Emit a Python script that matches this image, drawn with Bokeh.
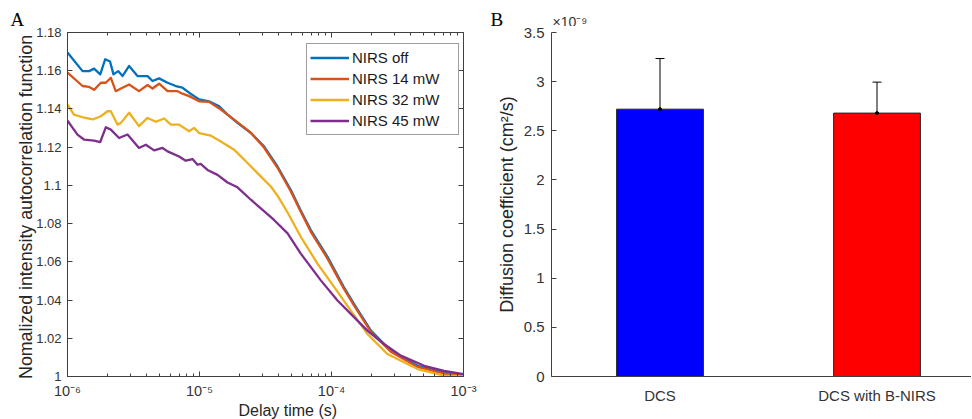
from bokeh.plotting import figure
from bokeh.models import (ColumnDataSource, FixedTicker, CustomJSTickFormatter, LinearAxis,
                          LogAxis, Legend, LegendItem, Whisker, TeeHead, Range1d)
from bokeh.layouts import row, column
from bokeh.embed import file_html
from bokeh.resources import INLINE
from bokeh.core.properties import value

# ---------------- Panel A data (delay time in s, normalized g2) ----------------
tau_off = [1.00e-6, 1.30e-6, 1.46e-6, 1.59e-6, 1.77e-6, 1.93e-6, 2.10e-6, 2.23e-6, 2.42e-6, 2.61e-6,
           2.93e-6, 3.39e-6, 4.04e-6, 4.41e-6, 4.94e-6, 5.73e-6, 6.61e-6, 7.43e-6, 8.34e-6, 9.93e-6,
           1.18e-5, 1.41e-5, 1.63e-5, 1.94e-5, 2.45e-5, 3.08e-5, 3.90e-5, 4.92e-5, 5.85e-5, 6.97e-5,
           9.33e-5, 1.24e-4, 1.48e-4, 1.99e-4, 2.81e-4, 4.49e-4, 7.13e-4, 1.00e-3]
g2_off = [1.1695, 1.1598, 1.1598, 1.1611, 1.1581, 1.1660, 1.1648, 1.1581, 1.1598, 1.1572,
          1.1625, 1.1572, 1.1572, 1.1546, 1.1560, 1.1537, 1.1520, 1.1511, 1.1485, 1.1450,
          1.1440, 1.1414, 1.1370, 1.1327, 1.1274, 1.1204, 1.1099, 1.0976, 1.0868, 1.0766,
          1.0626, 1.0468, 1.0380, 1.0240, 1.0135, 1.0056, 1.0021, 1.0009]

tau_14 = [1.00e-6, 1.30e-6, 1.46e-6, 1.59e-6, 1.79e-6, 1.95e-6, 2.13e-6, 2.32e-6, 2.54e-6, 2.93e-6,
          3.48e-6, 4.04e-6, 4.41e-6, 4.94e-6, 5.73e-6, 6.81e-6, 7.43e-6, 8.34e-6, 9.93e-6, 1.18e-5,
          1.45e-5, 1.83e-5, 2.45e-5, 3.08e-5, 3.90e-5, 4.92e-5, 5.85e-5, 6.97e-5, 9.33e-5, 1.24e-4,
          1.48e-4, 1.99e-4, 2.81e-4, 4.49e-4, 7.13e-4, 1.00e-3]
g2_14 = [1.1590, 1.1520, 1.1515, 1.1500, 1.1537, 1.1537, 1.1563, 1.1493, 1.1507, 1.1528,
         1.1493, 1.1525, 1.1507, 1.1532, 1.1493, 1.1493, 1.1480, 1.1467, 1.1440, 1.1437,
         1.1397, 1.1344, 1.1276, 1.1198, 1.1092, 1.0968, 1.0862, 1.0757, 1.0617, 1.0460,
         1.0372, 1.0233, 1.0130, 1.0050, 1.0015, 1.0004]

tau_32 = [1.00e-6, 1.12e-6, 1.34e-6, 1.55e-6, 1.79e-6, 2.01e-6, 2.13e-6, 2.39e-6, 2.54e-6, 2.93e-6,
          3.48e-6, 4.04e-6, 4.67e-6, 5.40e-6, 6.07e-6, 7.00e-6, 8.34e-6, 9.10e-6, 9.93e-6, 1.22e-5,
          1.45e-5, 1.83e-5, 2.31e-5, 2.75e-5, 3.47e-5, 3.90e-5, 4.65e-5, 5.85e-5, 7.83e-5, 1.05e-4,
          1.40e-4, 1.87e-4, 2.65e-4, 4.49e-4, 7.13e-4, 1.00e-3]
g2_32 = [1.1423, 1.1370, 1.1354, 1.1345, 1.1362, 1.1388, 1.1388, 1.1318, 1.1327, 1.1380,
         1.1310, 1.1353, 1.1333, 1.1350, 1.1318, 1.1318, 1.1283, 1.1301, 1.1274, 1.1260,
         1.1230, 1.1187, 1.1117, 1.1064, 1.0994, 1.0946, 1.0858, 1.0731, 1.0591, 1.0468,
         1.0345, 1.0223, 1.0118, 1.0039, 1.0004, 1.0000]

tau_45 = [1.00e-6, 1.19e-6, 1.34e-6, 1.59e-6, 1.77e-6, 1.95e-6, 2.13e-6, 2.46e-6, 2.85e-6, 3.48e-6,
          3.92e-6, 4.53e-6, 5.25e-6, 5.73e-6, 7.00e-6, 7.87e-6, 8.85e-6, 9.66e-6, 1.02e-5, 1.15e-5,
          1.37e-5, 1.63e-5, 1.94e-5, 2.45e-5, 3.08e-5, 3.67e-5, 4.65e-5, 5.85e-5, 8.30e-5, 1.11e-4,
          1.40e-4, 1.87e-4, 2.50e-4, 3.35e-4, 5.04e-4, 7.13e-4, 1.00e-3]
g2_45 = [1.1339, 1.1266, 1.1239, 1.1234, 1.1227, 1.1304, 1.1292, 1.1248, 1.1266, 1.1196,
         1.1213, 1.1183, 1.1196, 1.1178, 1.1151, 1.1129, 1.1138, 1.1108, 1.1113, 1.1081,
         1.1055, 1.1015, 1.0990, 1.0925, 1.0865, 1.0819, 1.0749, 1.0643, 1.0503, 1.0398,
         1.0328, 1.0240, 1.0170, 1.0109, 1.0056, 1.0030, 1.0013]

series_names = ["NIRS off", "NIRS 14 mW", "NIRS 32 mW", "NIRS 45 mW"]
series_colors = ["#0072BD", "#D95319", "#EDB120", "#7E2F8E"]

a_xtick_vals = [1e-6, 1e-5, 1e-4, 1e-3]
a_xtick_labels = ["10\u207b\u2076", "10\u207b\u2075", "10\u207b\u2074", "10\u207b\u00b3"]
a_ytick_vals = [1.0, 1.02, 1.04, 1.06, 1.08, 1.1, 1.12, 1.14, 1.16, 1.18]
a_ytick_labels = ["1", "1.02", "1.04", "1.06", "1.08", "1.1", "1.12", "1.14", "1.16", "1.18"]
a_xlabel = "Delay time (s)"
a_ylabel = "Nomalized intensity autocorrelation  function"

# ---------------- Panel B data (diffusion coefficient, x 1e-9 cm^2/s) ----------------
b_categories = ["DCS", "DCS with B-NIRS"]
b_positions = [1, 2]
b_means = [2.72, 2.68]
b_errors = [0.515, 0.315]
b_colors = ["#0000FF", "#FF0000"]
b_ytick_vals = [0, 0.5, 1, 1.5, 2, 2.5, 3, 3.5]
b_ytick_labels = ["0", "0.5", "1", "1.5", "2", "2.5", "3", "3.5"]
b_ylabel = "Diffusion coefficient (cm\u00b2/s)"

# header texts (panel letters and the exponent note)
panel_letters = ["A", "B"]
exponent_note = "\u00d710\u207b\u2079"

FONT = "Liberation Sans"
AX = "#404040"
TXT = "#333333"
W, H = 971, 419
HEADER_H = 26
FOOTER_H = 18
PLOT_H = H - HEADER_H
TOP_B = 32 - HEADER_H
FRAME_H = 344
WA = 480
WB = W - WA


def lookup(vals, labels):
    return CustomJSTickFormatter(args=dict(vals=vals, labels=labels), code="""
        let best = -1, bd = Infinity;
        for (let i = 0; i < vals.length; i++) {
            const d = Math.abs(tick - vals[i]) / (Math.abs(vals[i]) + 1e-12);
            if (d < bd) { bd = d; best = i; }
        }
        return (best >= 0 && bd < 1e-3) ? labels[best] : "";
    """)


def blank():
    return CustomJSTickFormatter(code="return '';")


def style_axis(ax, size, standoff, tick_in=5, minor_in=3):
    ax.axis_line_color = AX
    ax.major_tick_line_color = AX
    ax.minor_tick_line_color = AX
    ax.major_tick_in = tick_in
    ax.major_tick_out = 0
    ax.minor_tick_in = minor_in
    ax.minor_tick_out = 0
    ax.major_label_text_font = FONT
    ax.major_label_text_font_size = size
    ax.major_label_text_color = TXT
    ax.major_label_standoff = standoff
    ax.axis_label_text_font = FONT
    ax.axis_label_text_font_style = "normal"
    ax.axis_label_text_color = "#262626"


def hide_labels(ax):
    ax.axis_line_color = None
    ax.major_label_text_color = None
    ax.major_label_text_font_size = "1px"
    ax.major_label_standoff = 0


def bare(width, height):
    p = figure(width=width, height=height, x_range=Range1d(0, width), y_range=Range1d(height, 0),
               output_backend="svg", toolbar_location=None, min_border=0,
               x_axis_location=None, y_axis_location=None)
    p.title.visible = False
    p.grid.visible = False
    p.outline_line_color = None
    return p


# ---------------- header with panel letters ----------------
hdr = bare(W, HEADER_H)
hdr.text(x=[10, 490], y=[8, 8], text=panel_letters, text_font=value("Liberation Serif"),
         text_font_size=value("19px"), text_baseline="top", text_align="left",
         text_color="black")
hdr.text(x=[552], y=[13], text=[exponent_note], text_font=value(FONT),
         text_font_size=value("14px"), text_baseline="top", text_align="left",
         text_color=TXT)

# ---------------- footer with the x-axis title of panel A ----------------
ftr = bare(WA, FOOTER_H)
ftr.text(x=[267], y=[0], text=[a_xlabel], text_font=value(FONT),
         text_font_size=value("16px"), text_baseline="top", text_align="center",
         text_color="#262626")

# ---------------- Panel A ----------------
pA = figure(width=WA, height=PLOT_H - FOOTER_H, x_axis_type="log",
            x_range=Range1d(1e-6, 1e-3), y_range=Range1d(1.0, 1.18),
            output_backend="svg", toolbar_location=None, min_border=0,
            min_border_left=67, min_border_right=17, min_border_top=TOP_B,
            min_border_bottom=PLOT_H - FOOTER_H - TOP_B - FRAME_H)
pA.title.visible = False
pA.grid.visible = False
pA.outline_line_color = AX
pA.outline_line_width = 1
pA.outline_line_alpha = 1

a_xminor = [k * d for d in a_xtick_vals[:-1] for k in range(2, 10)]
xt = FixedTicker(ticks=a_xtick_vals, minor_ticks=a_xminor)
yt = FixedTicker(ticks=a_ytick_vals)

xa = pA.xaxis[0]
xa.ticker = xt
xa.formatter = lookup(a_xtick_vals, a_xtick_labels)
style_axis(xa, "14.5px", 6)

ya = pA.yaxis[0]
ya.ticker = yt
ya.formatter = lookup(a_ytick_vals, a_ytick_labels)
style_axis(ya, "13px", 6)
ya.axis_label = a_ylabel
ya.axis_label_text_font_size = "17.8px"
ya.axis_label_standoff = -3

top_ax = LogAxis(ticker=xt, formatter=blank())
style_axis(top_ax, "1px", 0)
hide_labels(top_ax)
pA.add_layout(top_ax, "above")

right_ax = LinearAxis(ticker=yt, formatter=blank())
style_axis(right_ax, "1px", 0)
hide_labels(right_ax)
pA.add_layout(right_ax, "right")

tau_all = [tau_off, tau_14, tau_32, tau_45]
g2_all = [g2_off, g2_14, g2_32, g2_45]
items = []
for t, g, c, name in zip(tau_all, g2_all, series_colors, series_names):
    src = ColumnDataSource(dict(t=t, g=g))
    r = pA.line("t", "g", source=src, line_color=c, line_width=2.3, line_join="round")
    items.append(LegendItem(label=name, renderers=[r]))

legend = Legend(items=items, location=(239, 241), margin=0, padding=3, spacing=0,
                glyph_width=39, glyph_height=21, label_height=21, label_width=103,
                label_standoff=3, label_text_font=FONT, label_text_font_size="15px",
                label_text_color="#1a1a1a", border_line_color=AX, border_line_width=1,
                background_fill_color="white", background_fill_alpha=1)
pA.add_layout(legend)

# ---------------- Panel B ----------------
pB = figure(width=WB, height=PLOT_H,
            x_range=Range1d(0.5, 0.5 + (WB - 71) / 217.0), y_range=Range1d(0, 3.5),
            output_backend="svg", toolbar_location=None, min_border=0,
            min_border_left=71, min_border_right=0, min_border_top=TOP_B,
            min_border_bottom=PLOT_H - TOP_B - FRAME_H)
pB.title.visible = False
pB.grid.visible = False
pB.outline_line_color = None

bsrc = ColumnDataSource(dict(
    x=b_positions, mean=b_means,
    upper=[m + e for m, e in zip(b_means, b_errors)],
    lower=[m - e for m, e in zip(b_means, b_errors)],
    color=b_colors))
pB.vbar(x="x", top="mean", width=0.4, source=bsrc, fill_color="color",
        line_color="#262626", line_width=1)
pB.add_layout(Whisker(source=bsrc, base="x", upper="upper", lower="lower",
                      line_color="black", line_width=1,
                      upper_head=TeeHead(size=9, line_color="black", line_width=1),
                      lower_head=TeeHead(size=9, line_color="black", line_width=1)))
pB.scatter(x="x", y="mean", source=bsrc, size=3, color="black")

bx = pB.xaxis[0]
bx.ticker = FixedTicker(ticks=b_positions)
bx.formatter = lookup(b_positions, b_categories)
style_axis(bx, "15px", 10, tick_in=0, minor_in=0)

by = pB.yaxis[0]
by.ticker = FixedTicker(ticks=b_ytick_vals)
by.formatter = lookup(b_ytick_vals, b_ytick_labels)
style_axis(by, "15px", 7)
by.axis_label = b_ylabel
by.axis_label_text_font_size = "18px"
by.axis_label_standoff = 4

layout = column(hdr, row(column(pA, ftr), pB))
open("out.html", "w").write(file_html(layout, INLINE, "Figure"))
